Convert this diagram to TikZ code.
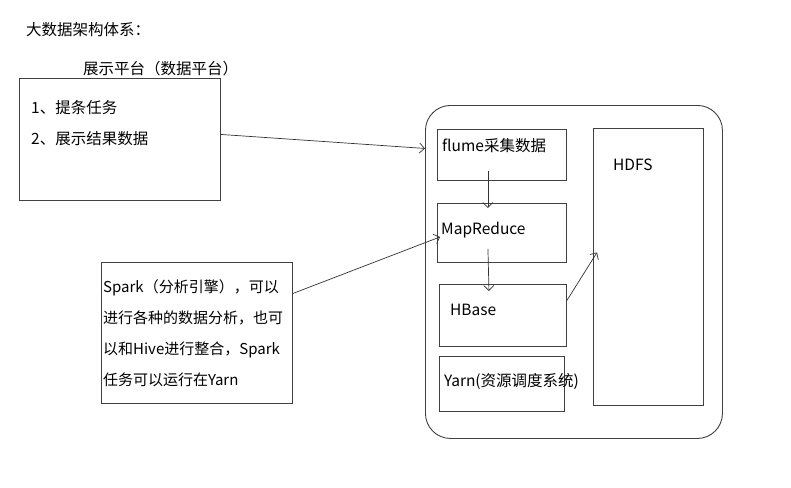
\documentclass[tikz,border=0pt]{standalone}
\usepackage{fontspec}
\setmainfont{Noto Sans CJK SC}
\usepackage{tikz}
\usetikzlibrary{shapes,arrows,arrows.meta}

\begin{document}
\begin{tikzpicture}[x=1pt, y=-1pt]
      % Sizes
      \pgfmathsetmacro{\fsize}{15.5}
      \tikzset{
        box/.style={draw=black!75, line width=0.9pt, anchor=north west, inner sep=0pt},
        txt/.style={anchor=west, inner sep=0pt, text=black, font=\fontsize{\fsize}{18}\selectfont},
        link/.style={-{Straight Barb[length=5pt,width=10pt]}, draw=black!80, line width=0.7pt}
      }
      \useasboundingbox[fill=white] (0,0) rectangle (791,487);

      % boxes
      \node[box, minimum width=201pt, minimum height=122pt] (show) at (19,78) {};
      \node[box, minimum width=191pt, minimum height=141pt] (spark) at (101,262) {};
      \node[box, rounded corners=25pt, minimum width=297pt, minimum height=333pt] (system) at (425,105) {};
      \node[box, minimum width=129pt, minimum height=51pt] (flume) at (437,129) {};
      \node[box, minimum width=129pt, minimum height=59pt] (mapreduce) at (437,203) {};
      \node[box, minimum width=127pt, minimum height=62pt] (hbase) at (439,284) {};
      \node[box, minimum width=125pt, minimum height=55pt] (yarn) at (439,356) {};
      \node[box, minimum width=110pt, minimum height=277pt] (hdfs) at (593,128) {};

      % labels
      \node[txt] (title) at (26,30) {大数据架构体系：};
      \node[txt] (showtitle) at (83,69) {展示平台（数据平台）};
      \node[txt] (task) at (31,108) {1、提条任务};
      \node[txt] (result) at (31,139) {2、展示结果数据};
      \node[txt] (flumetxt) at (442,146) {flume采集数据};
      \node[txt] (mrtxt) at (441,230) {MapReduce};
      \node[txt] (hbasetxt) at (450,310) {HBase};
      \node[txt] (yarntxt) at (444,381) {Yarn(资源调度系统)};
      \node[txt] (hdfstxt) at (613,165) {HDFS};
      \node[txt, anchor=north west, align=left, font=\fontsize{15}{31}\selectfont] (sparktxt) at (103,279)
        {Spark（分析引擎），可以\\进行各种的数据分析，也可\\以和Hive进行整合，Spark\\任务可以运行在Yarn};

      % draw diagram
      \draw[link] ([yshift=5pt]show.east) -- ([yshift=123.5pt]system.west);
      \draw[link] ([yshift=39.5pt]spark.east) -- ([xshift=3pt,yshift=-4pt]mapreduce.west);
      \draw[link] ([xshift=-14pt,yshift=10pt]flume.south) -- ([xshift=-14pt,yshift=-5pt]mapreduce.north);
      \draw[link] ([xshift=-14pt,yshift=14pt]mapreduce.south) -- ([xshift=-14pt,yshift=-7pt]hbase.north);
      \draw[link] ([yshift=15pt]hbase.east) -- ([xshift=4pt,yshift=14.5pt]hdfs.west);
\end{tikzpicture}
\end{document}
